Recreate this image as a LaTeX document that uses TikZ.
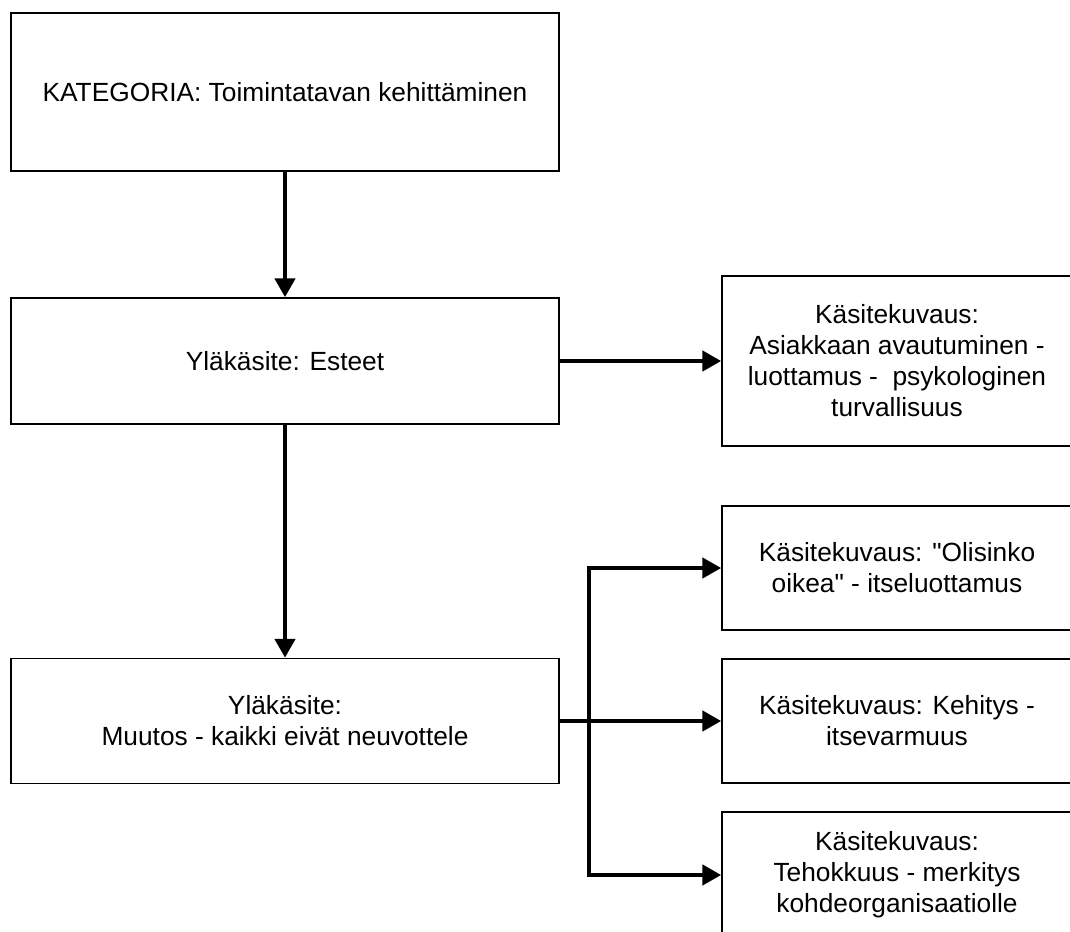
\documentclass[tikz,border=0pt]{standalone}
\usepackage{fontspec}
\setmainfont{Liberation Sans}
\usetikzlibrary{shapes.geometric, arrows.meta, positioning}

\tikzset{
  box/.style={draw, line width=1.5pt, align=center, inner sep=0pt},
  leftbox/.style={box, minimum width=548pt},
  rightbox/.style={box, minimum width=350pt},
  link/.style={line width=4.8pt, -{Triangle[length=19pt,width=20pt]}}
}

\begin{document}
\begin{tikzpicture}[x=1pt, y=-1pt, font=\fontsize{26.3}{31}\selectfont]

\useasboundingbox (0,0) rectangle (1070,931);

% Category and upper concepts (left column)
\node[leftbox, minimum height=158pt] (kategoria) at (285,92) {KATEGORIA: Toimintatavan kehittäminen};
\node[leftbox, minimum height=126pt] (esteet) at (285,361) {Yläkäsite: Esteet};
\node[leftbox, minimum height=125pt] (muutos) at (285,721) {Yläkäsite:\\Muutos - kaikki eivät neuvottele};

% Concept descriptions (right column)
\node[rightbox, minimum height=170pt] (avautuminen) at (897,361) {Käsitekuvaus:\\Asiakkaan avautuminen -\\luottamus -\ \ psykologinen\\turvallisuus};
\node[rightbox, minimum height=124pt] (olisinko) at (897,568) {Käsitekuvaus: \textquotedbl Olisinko\\oikea\textquotedbl{} - itseluottamus};
\node[rightbox, minimum height=124pt] (kehitys) at (897,721) {Käsitekuvaus: Kehitys -\\itsevarmuus};
\node[rightbox, minimum height=126pt] (tehokkuus) at (897,875) {Käsitekuvaus:\\Tehokkuus - merkitys\\kohdeorganisaatiolle};

% Arrows
\draw[link] (kategoria) -- (esteet);
\draw[link] (esteet) -- (muutos);
\draw[link] (esteet) -- (avautuminen);
\draw[link] (muutos) -- (kehitys);

% Branch from the lower upper concept
\coordinate (haara) at (589,721);
\draw[link] (haara) |- (olisinko);
\draw[link] (haara) |- (tehokkuus);

\end{tikzpicture}
\end{document}
